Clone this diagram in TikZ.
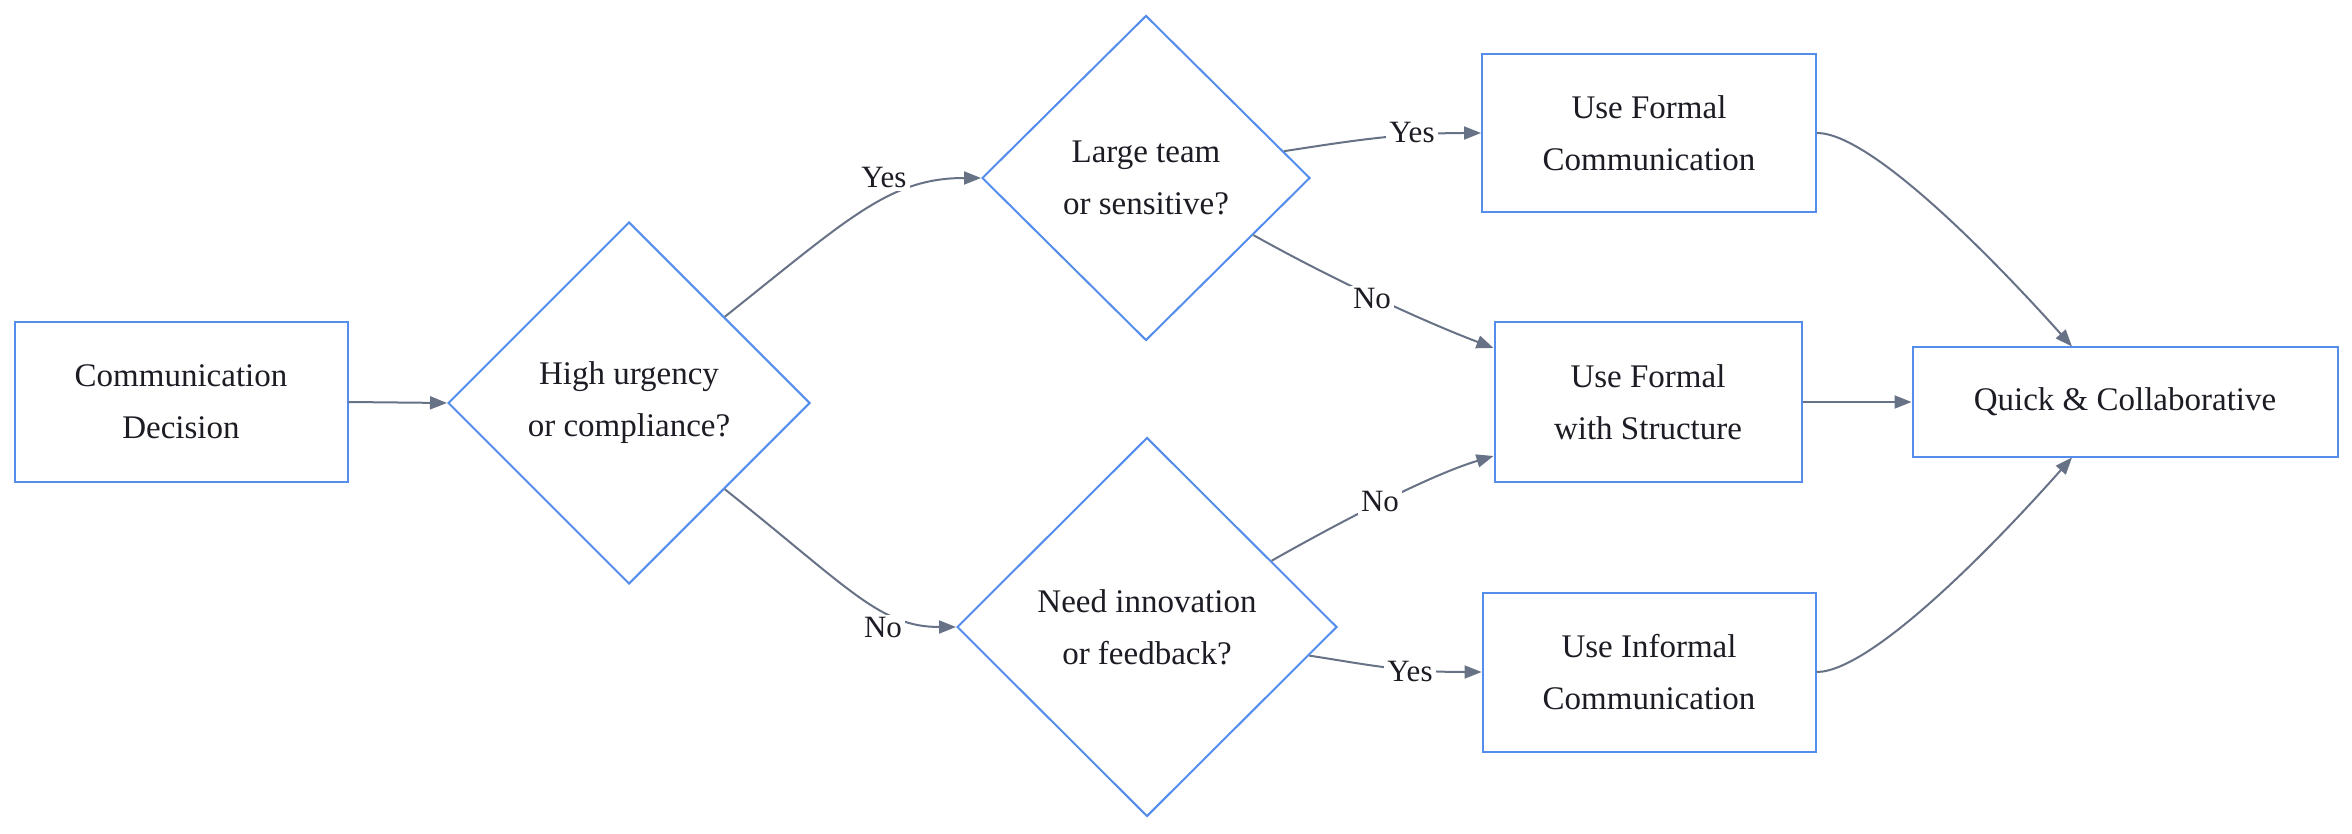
\documentclass[tikz,border=0pt]{standalone}
\usepackage{fontspec}
\setmainfont{Liberation Serif}
\usetikzlibrary{shapes.geometric,arrows.meta}
\definecolor{boxblue}{RGB}{84,141,235}
\definecolor{edgegray}{RGB}{104,114,134}
\definecolor{txt}{RGB}{28,28,36}
\begin{document}
\begin{tikzpicture}[x=0.5pt,y=-0.5pt,
  base/.style={draw=boxblue, line width=1pt, fill=white, text=txt, align=center, inner sep=0pt, font=\fontsize{16.5}{26}\selectfont},
  procbox/.style={base, rectangle},
  decision/.style={base, diamond, aspect=1},
  edge/.style={draw=edgegray, line width=1pt, -{Triangle[length=8.5pt,width=6.5pt]}},
  lbl/.style={fill=white, text=txt, inner sep=1.5pt, font=\fontsize{15.5}{18}\selectfont}
]
\useasboundingbox[fill=white] (0,0) rectangle (2352,834);

\node[procbox, minimum width=166.5pt, minimum height=79.5pt] (A) at (181,402) {Communication\\Decision};
\node[decision, minimum width=181pt, minimum height=181pt] (B) at (629,403) {High urgency\\or compliance?};
\node[decision, minimum width=164pt, minimum height=162.5pt] (C) at (1146,178) {Large team\\or sensitive?};
\node[procbox, minimum width=167pt, minimum height=79pt] (D) at (1649,133) {Use Formal\\Communication};
\node[procbox, minimum width=153.5pt, minimum height=79.5pt] (E) at (1648,402) {Use Formal\\with Structure};
\node[procbox, minimum width=212.5pt, minimum height=54.5pt] (F) at (2125,402) {Quick \& Collaborative};
\node[decision, minimum width=190pt, minimum height=189.5pt] (G) at (1147,627) {Need innovation\\or feedback?};
\node[procbox, minimum width=166.5pt, minimum height=79.5pt] (H) at (1649,672) {Use Informal\\Communication};

\draw[edge] (A.east) -- (B.west);
\draw[edge] (B.42) .. controls (850,217) and (890,178) .. (C.west);
\draw[edge] (B.-42) .. controls (850,589) and (880,627) .. (G.west);
\draw[edge] (C.11) .. controls (1350,141) and (1400,133) .. (D.west);
\draw[edge] (C.-28) .. controls (1330,278) and (1420,320) .. ([yshift=27pt]E.west);
\draw[edge] (G.28) .. controls (1340,522) and (1430,475) .. ([yshift=-27pt]E.west);
\draw[edge] (G.-10) .. controls (1370,665) and (1400,672) .. (H.west);
\draw[edge] (D.east) .. controls (1870,133) and (1990,255) .. ([xshift=-26.5pt]F.north);
\draw[edge] (H.east) .. controls (1870,672) and (1990,550) .. ([xshift=-26.5pt]F.south);
\draw[edge] (E.east) -- (F.west);

\node[lbl] (l1) at (884,178) {Yes};
\node[lbl] (l2) at (883,628) {No};
\node[lbl] (l3) at (1412,133) {Yes};
\node[lbl] (l4) at (1372,299) {No};
\node[lbl] (l5) at (1380,502) {No};
\node[lbl] (l6) at (1410,672) {Yes};
\end{tikzpicture}
\end{document}
